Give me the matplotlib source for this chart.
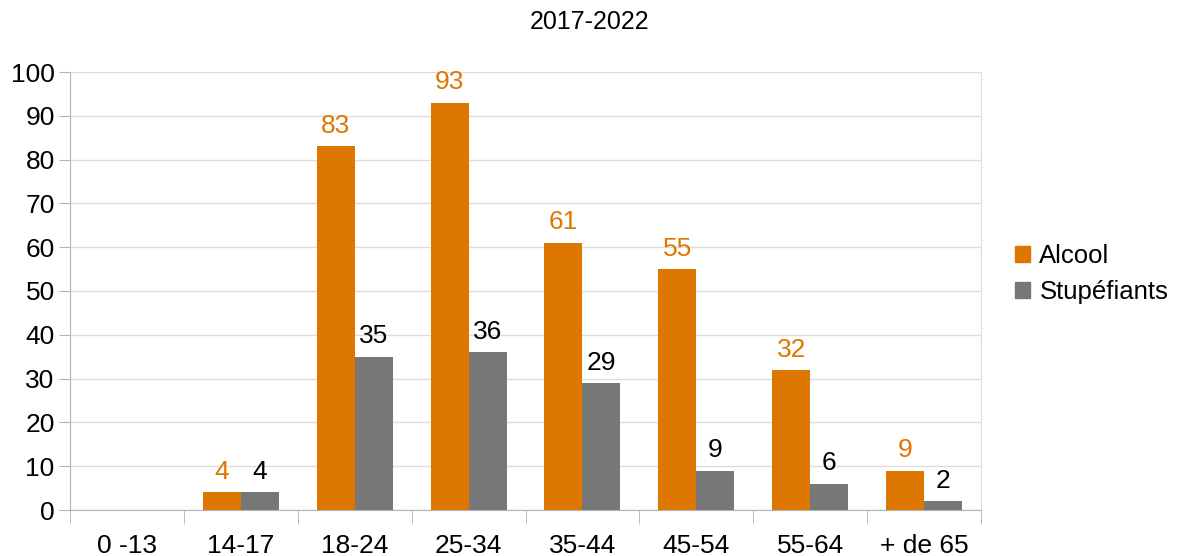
import numpy as np
import matplotlib

matplotlib.use("Agg")

import matplotlib.pyplot as plt
from matplotlib.patches import Patch

plt.rcParams["font.family"] = ["Liberation Sans", "DejaVu Sans"]

categories = ["0 -13", "14-17", "18-24", "25-34", "35-44", "45-54", "55-64", "+ de 65"]
alcool = [None, 4, 83, 93, 61, 55, 32, 9]
stupefiants = [None, 4, 35, 36, 29, 9, 6, 2]

ORANGE = "#dd7700"
GREY = "#777777"
AXIS_GREY = "#b3b3b3"
GRID_GREY = "#dddddd"
FONT_SIZE = 19

fig = plt.figure(figsize=(11.77, 5.56), dpi=100)
ax = fig.add_axes([70 / 1177, 1 - 510 / 556, 911 / 1177, 438 / 556])

x = np.arange(len(categories))
width = 1 / 3


def _draw_series(values, offset, color, label_color):
    for xi, v in zip(x, values):
        if v is None:
            continue
        ax.bar(xi + offset, v, width=width, color=color, zorder=3)
        ax.annotate(
            f"{v}",
            (xi + offset, v),
            xytext=(0, 6),
            textcoords="offset points",
            ha="center",
            va="bottom",
            fontsize=FONT_SIZE,
            color=label_color,
        )


_draw_series(alcool, -width / 2, ORANGE, ORANGE)
_draw_series(stupefiants, width / 2, GREY, "black")

ax.set_xlim(-0.5, len(categories) - 0.5)
ax.set_ylim(0, 100)
ax.set_yticks(range(0, 101, 10))
ax.tick_params(axis="y", length=8, color=AXIS_GREY, labelsize=FONT_SIZE, pad=3)

# category labels centred, tick marks on the boundaries
ax.set_xticks(x)
ax.set_xticklabels(categories, fontsize=FONT_SIZE)
ax.tick_params(axis="x", which="major", length=0, pad=17)
ax.set_xticks(np.arange(-0.5, len(categories)), minor=True)
ax.tick_params(axis="x", which="minor", length=10, color=AXIS_GREY)

ax.grid(axis="y", color=GRID_GREY, linewidth=1, zorder=0)
for side in ("top", "right", "left", "bottom"):
    ax.spines[side].set_color(AXIS_GREY)
ax.spines["top"].set_visible(False)
ax.spines["right"].set_color(GRID_GREY)

fig.text(590 / 1177, 1 - 22 / 556, "2017-2022", ha="center", va="center", fontsize=18)

handles = [Patch(color=ORANGE, label="Alcool"), Patch(color=GREY, label="Stupéfiants")]
fig.legend(
    handles=handles,
    loc="center left",
    bbox_to_anchor=(1015 / 1177, 1 - 274 / 556),
    frameon=False,
    fontsize=18.5,
    borderpad=0,
    borderaxespad=0,
    handlelength=0.6,
    handleheight=0.6,
    handletextpad=0.35,
    labelspacing=0.45,
)

fig.savefig("out.png", dpi=100)
